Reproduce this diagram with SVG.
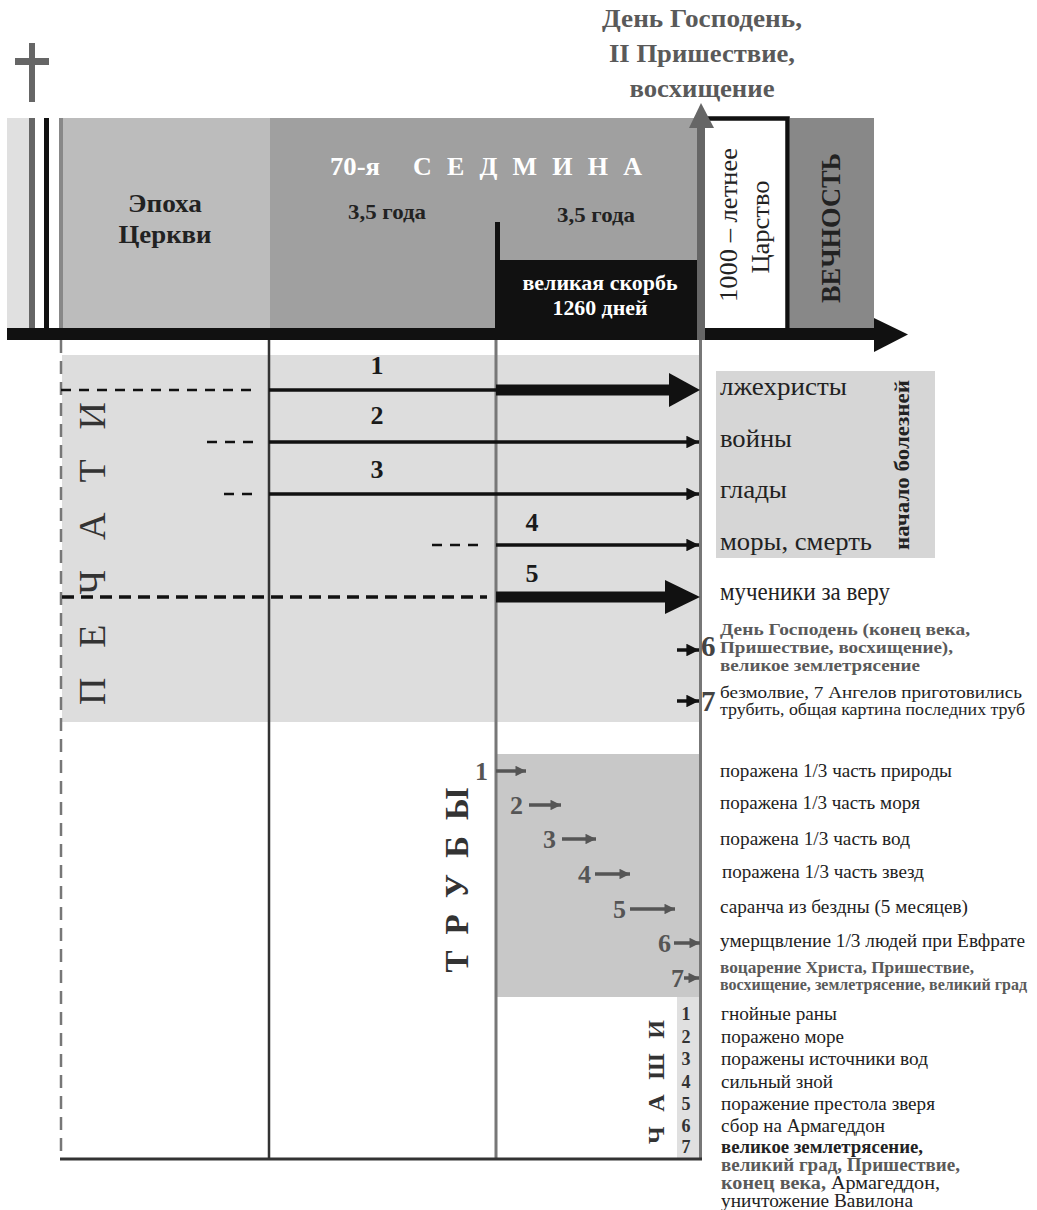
<svg xmlns="http://www.w3.org/2000/svg" width="1037" height="1210" viewBox="0 0 1037 1210" font-family="'Liberation Serif','Times New Roman',serif">
<style>
text{font-family:"Liberation Serif","Times New Roman",serif;fill:#222}
.b{font-weight:bold}
.g{fill:#5a5a5a}
.w{fill:#fff}
.num{font-weight:bold;fill:#1a1a1a}
.tn{font-weight:bold;fill:#555}
.bn{font-weight:bold;fill:#333;text-anchor:middle}
.dash{stroke:#111;stroke-width:2.5;stroke-dasharray:10 8;fill:none}
.thin{stroke:#111;stroke-width:3.5;fill:none}
.tr{stroke:#555;stroke-width:3.5;fill:none}
</style>
<defs>
<marker id="ah" viewBox="0 0 10 10" refX="10" refY="5" markerWidth="4.2" markerHeight="3.6" markerUnits="strokeWidth" orient="auto"><path d="M0,0 L10,5 L0,10 Z" fill="#111"/></marker>
<marker id="ahg" viewBox="0 0 10 10" refX="10" refY="5" markerWidth="3.2" markerHeight="3" markerUnits="strokeWidth" orient="auto"><path d="M0,0 L10,5 L0,10 Z" fill="#555"/></marker>
</defs>

<g id="cross" fill="#666">
<rect x="29" y="43" width="6" height="59"/>
<rect x="15" y="58" width="34" height="7"/>
</g>

<g id="title" font-size="25" font-weight="bold" text-anchor="middle">
<text x="702" y="27" class="b g" font-size="25" textLength="200" lengthAdjust="spacingAndGlyphs">День Господень,</text>
<text x="702" y="62" class="b g" font-size="25" textLength="186" lengthAdjust="spacingAndGlyphs">II Пришествие,</text>
<text x="702" y="97" class="b g" font-size="25" textLength="145" lengthAdjust="spacingAndGlyphs">восхищение</text>
</g>

<g id="band-left">
<rect x="7" y="118" width="56" height="210" fill="#e0e0e0"/>
<rect x="29" y="118" width="6" height="210" fill="#666"/>
<rect x="35" y="118" width="9" height="210" fill="#fff"/>
<rect x="44" y="118" width="5" height="210" fill="#111"/>
<rect x="49" y="118" width="10" height="210" fill="#fff"/>
<rect x="59" y="118" width="4" height="210" fill="#888"/>
</g>
<g id="church">
<rect x="63" y="118" width="207" height="210" fill="#bcbcbc"/>
<text x="165" y="212" class="b" font-size="25" text-anchor="middle" textLength="74" lengthAdjust="spacingAndGlyphs">Эпоха</text>
<text x="165" y="243" class="b" font-size="25" text-anchor="middle" textLength="93" lengthAdjust="spacingAndGlyphs">Церкви</text>
</g>
<g id="week70">
<rect x="270" y="118" width="427" height="210" fill="#a0a0a0"/>
<text x="330" y="175" class="b w" font-size="26" textLength="50" lengthAdjust="spacingAndGlyphs">70-я</text>
<text x="413" y="175" class="b w" font-size="26" textLength="229" lengthAdjust="spacing">С Е Д М И Н А</text>
<text x="348" y="219" class="b" font-size="22" textLength="78" lengthAdjust="spacingAndGlyphs">3,5 года</text>
<text x="557" y="222" class="b" font-size="22" textLength="78" lengthAdjust="spacingAndGlyphs">3,5 года</text>
</g>
<g id="tribulation">
<rect x="495" y="222" width="5" height="106" fill="#111"/>
<rect x="495" y="260" width="202" height="68" fill="#111"/>
<text x="600" y="290" class="b w" font-size="22" text-anchor="middle" textLength="155" lengthAdjust="spacingAndGlyphs">великая скорбь</text>
<text x="600" y="315" class="b w" font-size="22" text-anchor="middle" textLength="95" lengthAdjust="spacingAndGlyphs">1260 дней</text>
</g>
<g id="millennium">
<rect x="705" y="120" width="81" height="208" fill="#fff"/>
<path d="M705,118.5 H787.5 V328" fill="none" stroke="#111" stroke-width="4.5"/>
<text transform="translate(737,225) rotate(-90)" font-size="26" text-anchor="middle" textLength="154" lengthAdjust="spacingAndGlyphs">1000 – летнее</text>
<text transform="translate(769,227) rotate(-90)" font-size="26" text-anchor="middle" textLength="93" lengthAdjust="spacingAndGlyphs">Царство</text>
</g>
<g id="eternity">
<rect x="790" y="118" width="84" height="210" fill="#888"/>
<text transform="translate(840,228) rotate(-90)" class="b" font-size="27" text-anchor="middle" textLength="150" lengthAdjust="spacingAndGlyphs">ВЕЧНОСТЬ</text>
</g>

<g id="seals-bg">
<rect x="62" y="355" width="638" height="367" fill="#dddddd"/>
<text transform="translate(105,553.5) rotate(-90)" font-size="38" text-anchor="middle" textLength="303" lengthAdjust="spacing" style="fill:#333">П Е Ч А Т И</text>
</g>
<g id="trumpets-bg">
<rect x="495" y="754" width="205" height="243" fill="#c8c8c8"/>
<text transform="translate(468,880) rotate(-90)" class="b" font-size="33" text-anchor="middle" textLength="185" lengthAdjust="spacing" style="fill:#333">Т Р У Б Ы</text>
</g>
<g id="bowls-bg">
<rect x="677" y="997" width="22" height="162" fill="#e0e0e0"/>
<text transform="translate(664,1082) rotate(-90)" class="b" font-size="24" text-anchor="middle" textLength="124" lengthAdjust="spacing" style="fill:#333">Ч А Ш И</text>
</g>
<g id="sorrows-box">
<rect x="716" y="371" width="219" height="187" fill="#d6d6d6"/>
<text transform="translate(909,465) rotate(-90)" class="b" font-size="22" text-anchor="middle" textLength="170" lengthAdjust="spacingAndGlyphs">начало болезней</text>
</g>

<g id="timeline">
<rect x="7" y="328" width="868" height="12" fill="#111"/>
<polygon points="874,318 908,334.5 874,352" fill="#111"/>
<rect x="697" y="127" width="8" height="213" fill="#666"/>
<polygon points="689,128 701,103 714,128" fill="#666"/>
</g>

<g id="grid">
<line x1="61" y1="340" x2="61" y2="1158" stroke="#777" stroke-width="2.5" stroke-dasharray="13 8"/>
<line x1="269" y1="340" x2="269" y2="1159" stroke="#333" stroke-width="2.5"/>
<line x1="496" y1="340" x2="496" y2="1159" stroke="#777" stroke-width="3"/>
<line x1="700.5" y1="340" x2="700.5" y2="1160" stroke="#777" stroke-width="3"/>
<line x1="60" y1="1159" x2="702" y2="1159" stroke="#333" stroke-width="3"/>
</g>

<g id="connectors">
<line x1="61" y1="390" x2="256" y2="390" class="dash"/>
<line x1="269" y1="390" x2="496" y2="390" class="thin"/>
<rect x="496" y="384.5" width="175" height="11" fill="#111"/>
<polygon points="669,373 700,390 669,407" fill="#111"/>
<line x1="207" y1="442" x2="259" y2="442" class="dash"/>
<line x1="269" y1="442" x2="699" y2="442" class="thin" marker-end="url(#ah)"/>
<line x1="224" y1="494" x2="258" y2="494" class="dash"/>
<line x1="269" y1="494" x2="699" y2="494" class="thin" marker-end="url(#ah)"/>
<line x1="432" y1="545" x2="486" y2="545" class="dash"/>
<line x1="496" y1="545" x2="699" y2="545" class="thin" marker-end="url(#ah)"/>
<line x1="62" y1="597" x2="487" y2="597" stroke="#111" stroke-width="3.5" stroke-dasharray="12 7"/>
<rect x="496" y="591.5" width="172" height="11" fill="#111"/>
<polygon points="665,580 700,597 665,614" fill="#111"/>
<line x1="677" y1="650" x2="699" y2="650" class="thin" marker-end="url(#ah)"/>
<line x1="677" y1="701" x2="699" y2="701" class="thin" marker-end="url(#ah)"/>
<line x1="496" y1="771" x2="526" y2="771" class="tr" marker-end="url(#ahg)"/>
<line x1="529" y1="805" x2="561" y2="805" class="tr" marker-end="url(#ahg)"/>
<line x1="562" y1="839" x2="596" y2="839" class="tr" marker-end="url(#ahg)"/>
<line x1="595" y1="874" x2="630" y2="874" class="tr" marker-end="url(#ahg)"/>
<line x1="630" y1="909" x2="675" y2="909" class="tr" marker-end="url(#ahg)"/>
<line x1="674" y1="943" x2="700" y2="943" class="tr" marker-end="url(#ahg)"/>
<line x1="684" y1="978" x2="699" y2="978" class="tr" marker-end="url(#ahg)"/>
</g>

<g id="seal-1"><text x="377" y="374" class="num" font-size="26" text-anchor="middle">1</text><text x="720" y="395" font-size="25" textLength="127" lengthAdjust="spacingAndGlyphs">лжехристы</text></g>
<g id="seal-2"><text x="377" y="424" class="num" font-size="26" text-anchor="middle">2</text><text x="720" y="447" font-size="25" textLength="72" lengthAdjust="spacingAndGlyphs">войны</text></g>
<g id="seal-3"><text x="377" y="478" class="num" font-size="26" text-anchor="middle">3</text><text x="720" y="498" font-size="25" textLength="67" lengthAdjust="spacingAndGlyphs">глады</text></g>
<g id="seal-4"><text x="532" y="531" class="num" font-size="26" text-anchor="middle">4</text><text x="720" y="550" font-size="25" textLength="152" lengthAdjust="spacingAndGlyphs">моры, смерть</text></g>
<g id="seal-5"><text x="532" y="582" class="num" font-size="26" text-anchor="middle">5</text><text x="720" y="600" font-size="25" textLength="170" lengthAdjust="spacingAndGlyphs">мученики за веру</text></g>
<g id="seal-6">
<text x="701" y="656" font-size="29" font-weight="bold" style="fill:#444">6</text>
<text x="720" y="635" class="b g" font-size="17" textLength="250" lengthAdjust="spacingAndGlyphs">День Господень (конец века,</text>
<text x="720" y="653" class="b g" font-size="17" textLength="233" lengthAdjust="spacingAndGlyphs">Пришествие, восхищение),</text>
<text x="720" y="671" class="b g" font-size="17" textLength="200" lengthAdjust="spacingAndGlyphs">великое землетрясение</text>
</g>
<g id="seal-7">
<text x="701" y="711" font-size="29" font-weight="bold" style="fill:#444">7</text>
<text x="720" y="698" font-size="17" textLength="302" lengthAdjust="spacingAndGlyphs">безмолвие, 7 Ангелов приготовились</text>
<text x="720" y="715" font-size="17" textLength="305" lengthAdjust="spacingAndGlyphs">трубить, общая картина последних труб</text>
</g>

<g id="trumpet-1"><text x="488" y="780" class="tn" font-size="26" text-anchor="end">1</text><text x="720" y="777" font-size="18" textLength="232" lengthAdjust="spacingAndGlyphs">поражена 1/3 часть природы</text></g>
<g id="trumpet-2"><text x="523" y="814" class="tn" font-size="26" text-anchor="end">2</text><text x="720" y="809" font-size="18" textLength="200" lengthAdjust="spacingAndGlyphs">поражена 1/3 часть моря</text></g>
<g id="trumpet-3"><text x="556" y="848" class="tn" font-size="26" text-anchor="end">3</text><text x="720" y="845" font-size="18" textLength="190" lengthAdjust="spacingAndGlyphs">поражена 1/3 часть вод</text></g>
<g id="trumpet-4"><text x="591" y="883" class="tn" font-size="26" text-anchor="end">4</text><text x="722" y="878" font-size="18" textLength="202" lengthAdjust="spacingAndGlyphs">поражена 1/3 часть звезд</text></g>
<g id="trumpet-5"><text x="626" y="918" class="tn" font-size="26" text-anchor="end">5</text><text x="720" y="913" font-size="18" textLength="248" lengthAdjust="spacingAndGlyphs">саранча из бездны (5 месяцев)</text></g>
<g id="trumpet-6"><text x="671" y="952" class="tn" font-size="26" text-anchor="end">6</text><text x="720" y="947" font-size="18" textLength="305" lengthAdjust="spacingAndGlyphs">умерщвление 1/3 людей при Евфрате</text></g>
<g id="trumpet-7"><text x="684" y="987" class="tn" font-size="26" text-anchor="end">7</text>
<text x="720" y="973" class="b g" font-size="16" textLength="254" lengthAdjust="spacingAndGlyphs">воцарение Христа, Пришествие,</text>
<text x="720" y="990" class="b g" font-size="16" textLength="307" lengthAdjust="spacingAndGlyphs">восхищение, землетрясение, великий град</text>
</g>

<g id="bowl-1"><text x="686" y="1020" class="bn" font-size="18">1</text><text x="721" y="1020" font-size="19" textLength="116" lengthAdjust="spacingAndGlyphs">гнойные раны</text></g>
<g id="bowl-2"><text x="686" y="1042.5" class="bn" font-size="18">2</text><text x="721" y="1042.5" font-size="19" textLength="123" lengthAdjust="spacingAndGlyphs">поражено море</text></g>
<g id="bowl-3"><text x="686" y="1065" class="bn" font-size="18">3</text><text x="721" y="1065" font-size="19" textLength="207" lengthAdjust="spacingAndGlyphs">поражены источники вод</text></g>
<g id="bowl-4"><text x="686" y="1087.5" class="bn" font-size="18">4</text><text x="721" y="1087.5" font-size="19" textLength="112" lengthAdjust="spacingAndGlyphs">сильный зной</text></g>
<g id="bowl-5"><text x="686" y="1110" class="bn" font-size="18">5</text><text x="721" y="1110" font-size="19" textLength="214" lengthAdjust="spacingAndGlyphs">поражение престола зверя</text></g>
<g id="bowl-6"><text x="686" y="1132" class="bn" font-size="18">6</text><text x="721" y="1132" font-size="19" textLength="164" lengthAdjust="spacingAndGlyphs">сбор на Армагеддон</text></g>
<g id="bowl-7"><text x="686" y="1153" class="bn" font-size="18">7</text>
<text x="721" y="1153" class="b" font-size="18" textLength="202" lengthAdjust="spacingAndGlyphs">великое землетрясение,</text>
<text x="721" y="1171" class="b g" font-size="18" textLength="239" lengthAdjust="spacingAndGlyphs">великий град, Пришествие,</text>
<text x="721" y="1189" font-size="18" textLength="219" lengthAdjust="spacingAndGlyphs"><tspan class="b g">конец века,</tspan> Армагеддон,</text>
<text x="721" y="1207" font-size="18" textLength="192" lengthAdjust="spacingAndGlyphs">уничтожение Вавилона</text>
</g>
</svg>
